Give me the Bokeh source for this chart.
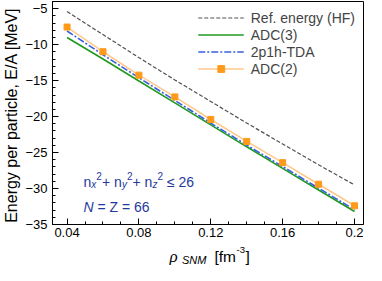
from bokeh.plotting import figure
from bokeh.models import (FixedTicker, CustomJSTickFormatter, Range1d, Label)
from bokeh.layouts import column
from bokeh.embed import file_html
from bokeh.resources import INLINE
import numpy as np

# ---- data ----
rho = [0.04, 0.06, 0.08, 0.10, 0.12, 0.14, 0.16, 0.18, 0.20]
e_hf = [-5.4, -8.6, -11.8, -14.9, -17.9, -20.9, -23.8, -26.7, -29.5]
e_adc3 = [-9.0, -12.0, -15.05, -18.1, -21.15, -24.2, -27.2, -30.2, -33.2]
e_tda = [-8.1, -11.4, -14.6, -17.75, -20.9, -23.95, -26.95, -29.95, -32.95]
e_adc2 = [-7.55, -10.98, -14.24, -17.26, -20.4, -23.45, -26.4, -29.4, -32.4]

x_ticks = [0.04, 0.08, 0.12, 0.16, 0.2]
y_ticks = [-35, -30, -25, -20, -15, -10, -5]
series_labels = ["Ref. energy (HF)", "ADC(3)", "2p1h-TDA", "ADC(2)"]

FONT = "Liberation Sans"

p = figure(width=366, height=239, output_backend="svg", toolbar_location=None,
           x_range=Range1d(0.0319, 0.205), y_range=Range1d(-35, -4.0),
           min_border_left=43, min_border_right=3, min_border_top=1,
           min_border_bottom=0, background_fill_color="white",
           border_fill_color="white", title=None)
p.grid.visible = False
p.outline_line_color = "black"
p.outline_line_width = 1

# series
p.line(rho, e_hf, line_color="#505050", line_width=1.2, line_dash="4 2",
       legend_label=series_labels[0])
p.line(rho, e_adc3, line_color="#1f9a1f", line_width=1.6,
       legend_label=series_labels[1])
p.line(rho, e_tda, line_color="#3a5fe0", line_width=1.6, line_dash="7 2 2 2",
       legend_label=series_labels[2])
p.line(rho, e_adc2, line_color="#ffc88c", line_width=1.6,
       legend_label=series_labels[3])
p.scatter(rho, e_adc2, marker="square", size=6, fill_color="#ff9a1a",
          line_color="#ff9a1a", legend_label=series_labels[3])

# axes
p.xaxis.ticker = FixedTicker(ticks=x_ticks,
                             minor_ticks=list(np.round(np.arange(0.03, 0.2101, 0.01), 3)))
p.xaxis.formatter = CustomJSTickFormatter(
    code="var s = tick.toFixed(2); return s.replace(/0$/, '');")
p.yaxis.ticker = FixedTicker(ticks=y_ticks, minor_ticks=list(range(-35, -3)))
for ax in (p.xaxis[0], p.yaxis[0]):
    ax.major_tick_in = 6
    ax.major_tick_out = 0
    ax.minor_tick_in = 3
    ax.minor_tick_out = 0
    ax.axis_line_color = "black"
    ax.major_tick_line_color = "black"
    ax.minor_tick_line_color = "black"
    ax.major_label_text_font = FONT
    ax.major_label_text_font_size = "13px"
    ax.major_label_text_color = "black"
p.xaxis.major_label_standoff = 3
p.xaxis.axis_label_standoff = 0
p.yaxis.major_label_standoff = 5
p.yaxis.axis_label = "Energy per particle,  E/A [MeV]"
p.yaxis.axis_label_text_font = FONT
p.yaxis.axis_label_text_font_size = "16px"
p.yaxis.axis_label_text_font_style = "normal"
p.yaxis.axis_label_text_color = "black"
p.yaxis.axis_label_standoff = 2

# legend
lg = p.legend[0]
lg.location = "top_right"
lg.margin = 0
lg.padding = 8
lg.spacing = 0
lg.glyph_width = 46
lg.glyph_height = 17
lg.label_height = 17
lg.label_standoff = 7
lg.label_text_font = FONT
lg.label_text_font_size = "14px"
lg.border_line_alpha = 0
lg.background_fill_alpha = 0


def add(fig, text, sx, sy, size, style="normal", color="black", font=FONT):
    fig.add_layout(Label(x=sx, y=sy, x_units="screen", y_units="screen", text=text,
                         text_font=font, text_font_size=size, text_font_style=style,
                         text_color=color, text_baseline="alphabetic",
                         text_align="left"))


# in-plot annotation
BLUE = "#1f3a9c"
x0, b = 31, 43
add(p, "n", x0, b, "14px", color=BLUE)
add(p, "x", x0 + 7.8, b - 3, "10px", "italic", color=BLUE)
add(p, "2", x0 + 12.8, b + 6, "10px", color=BLUE)
add(p, "+ n", x0 + 18.4, b, "14px", color=BLUE)
add(p, "y", x0 + 38.4, b - 3, "10px", "italic", color=BLUE)
add(p, "2", x0 + 43.4, b + 6, "10px", color=BLUE)
add(p, "+ n", x0 + 49.0, b, "14px", color=BLUE)
add(p, "z", x0 + 69.0, b - 3, "10px", "italic", color=BLUE)
add(p, "2", x0 + 74.0, b + 6, "10px", color=BLUE)
add(p, "≤ 26", x0 + 83.5, b, "14px", color=BLUE)

add(p, "N", x0, 18, "14px", "italic", color=BLUE)
add(p, "= Z = 66", x0 + 14, 18, "14px", color=BLUE)

# x-axis label strip: rho_SNM [fm^-3] (frame aligned with the main plot)
q = figure(width=366, height=26, output_backend="svg", toolbar_location=None,
           x_axis_type=None, y_axis_type=None, min_border=0, title=None,
           x_range=Range1d(0, 1), y_range=Range1d(0, 1),
           outline_line_color=None, background_fill_color="white",
           border_fill_color="white")
q.grid.visible = False
add(q, "ρ", 117, 9, "17px", "italic", font="Liberation Serif")
add(q, "SNM", 129.5, 6, "11px", "italic")
add(q, "[fm", 162, 9, "15.5px")
add(q, "-3", 184, 16, "9.5px")
add(q, "]", 193, 9, "15.5px")

layout = column(p, q, spacing=0)
open("out.html", "w").write(file_html(layout, INLINE))
